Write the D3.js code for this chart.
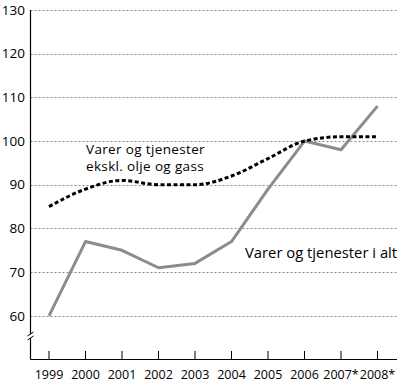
<!DOCTYPE html>
<html><head><meta charset="utf-8">
<script src="https://cdn.jsdelivr.net/npm/d3@7"></script>
<style>body{margin:0;background:#fff}svg{display:block}text{font-family:"Open Sans",sans-serif;fill:#000}</style>
</head><body><svg id="c" width="400" height="383"></svg>
<script>
const years = ["1999","2000","2001","2002","2003","2004","2005","2006","2007*","2008*"];
const totalAll = [60,77,75,71,72,77,89,100,98,108];
const exOilGas = [85,89,91,90,90,92,96,100,101,101];
const yTicks = [60,70,80,90,100,110,120,130];
const labelEx = ["Varer og tjenester","ekskl. olje og gass"];
const labelAll = "Varer og tjenester i alt";

const svg = d3.select("#c");
const x = d3.scalePoint().domain(years).range([49,377.5]);
const y = d3.scaleLinear().domain([50,130]).range([359.5,10]);
const left = 30.5, right = 397;

svg.append("g").selectAll("line").data(yTicks).join("line")
  .attr("x1",left).attr("x2",right).attr("y1",d=>Math.round(y(d))+0.5).attr("y2",d=>Math.round(y(d))+0.5)
  .attr("stroke","#888").attr("stroke-width",1).attr("stroke-dasharray","2,2");

svg.append("g").selectAll("text").data(yTicks).join("text")
  .attr("x",25).attr("y",d=>y(d)).attr("dy","0.35em").attr("text-anchor","end")
  .attr("font-size",13.5).text(d=>d);

svg.append("line").attr("x1",left).attr("x2",left).attr("y1",10).attr("y2",359.5).attr("stroke","#000").attr("stroke-width",1.2);
svg.append("line").attr("x1",left).attr("x2",right).attr("y1",359.5).attr("y2",359.5).attr("stroke","#000").attr("stroke-width",1.2);

const bk = svg.append("g");
bk.append("rect").attr("x",left-3).attr("y",334).attr("width",6).attr("height",4).attr("fill","#fff");
[334,338].forEach(yy=>bk.append("line").attr("x1",left-3).attr("x2",left+3).attr("y1",yy+2).attr("y2",yy-2).attr("stroke","#000").attr("stroke-width",1));

svg.append("g").selectAll("line").data(years).join("line")
  .attr("x1",d=>x(d)).attr("x2",d=>x(d)).attr("y1",351).attr("y2",359.5).attr("stroke","#000").attr("stroke-width",1);
svg.append("g").selectAll("text").data(years).join("text")
  .attr("x",d=>x(d)).attr("y",379).attr("text-anchor","middle").attr("font-size",12.5).text(d=>d);

const lineAll = d3.line().x((d,i)=>x(years[i])).y(d=>y(d));
svg.append("path").attr("d",lineAll(totalAll)).attr("fill","none").attr("stroke","#8c8c8c").attr("stroke-width",3).attr("stroke-linejoin","round");
const lineEx = d3.line().x((d,i)=>x(years[i])).y(d=>y(d)).curve(d3.curveMonotoneX);
svg.append("path").attr("d",lineEx(exOilGas)).attr("fill","none").attr("stroke","#000").attr("stroke-width",3).attr("stroke-dasharray","4,2.5");

svg.append("text").attr("x",86).attr("y",154).attr("font-size",13.5).attr("letter-spacing",0.35).text(labelEx[0]);
svg.append("text").attr("x",86).attr("y",171).attr("font-size",13.5).attr("letter-spacing",0.35).text(labelEx[1]);
svg.append("text").attr("x",245).attr("y",258).attr("font-size",14.8).text(labelAll);
</script></body></html>
